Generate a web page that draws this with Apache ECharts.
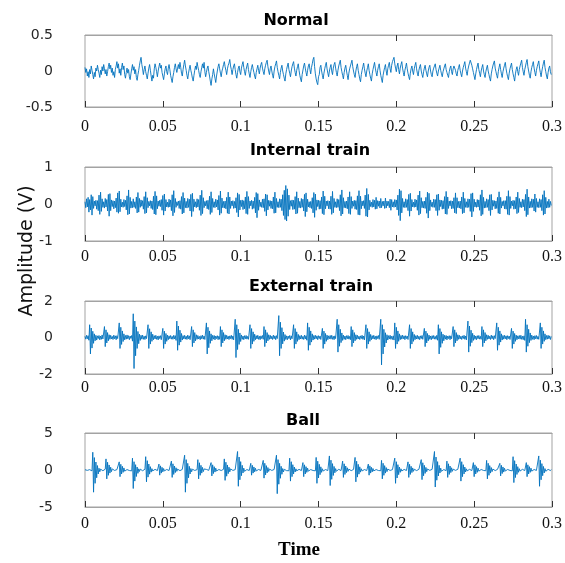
<!DOCTYPE html>
<html>
<head>
<meta charset="utf-8">
<script src="https://cdn.jsdelivr.net/npm/echarts@6/dist/echarts.min.js"></script>
<style>
  html, body { margin: 0; padding: 0; background: #fff; }
  #chart { width: 565px; height: 563px; }
</style>
</head>
<body>
<div id="chart"></div>
<script>
// sample spacing (s) of the vibration records, 0 .. 0.3 s
const DT = 0.0005

const titles = ['Normal', 'Internal train', 'External train', 'Ball']
const yLimits = [0.5, 1, 2, 5]
const xTicks = [0, 0.05, 0.1, 0.15, 0.2, 0.25, 0.3]
const topTicks = [0.2, 0.25]

const normal = [
  0.05,-0.02,0.03,-0.07,-0.01,-0.09,0.02,-0.04,0.07,0.01,-0.05,-0.11,-0.02,-0.08,0.04,0.00,0.08,0.02,-0.03,-0.09,0.01,-0.05,0.06,0.00,0.09,0.03,-0.04,0.02,-0.07,-0.01,0.06,0.11,0.03,0.08,-0.02,0.04,-0.06,-0.01,-0.09,0.02,
  0.07,0.13,0.04,0.10,-0.03,0.03,-0.06,0.05,0.11,0.02,0.07,-0.05,-0.10,-0.02,0.04,-0.03,0.02,-0.08,-0.12,-0.04,0.03,0.09,0.01,0.06,-0.04,0.02,-0.09,-0.13,-0.05,0.01,0.08,0.14,0.19,0.09,0.03,-0.05,0.02,0.07,-0.01,-0.06,
  -0.11,-0.03,0.04,0.09,0.01,-0.07,-0.14,-0.06,-0.10,0.03,0.10,0.05,-0.01,-0.08,0.00,0.06,0.11,0.04,0.08,-0.02,-0.07,-0.12,-0.04,0.03,0.07,-0.01,-0.05,0.04,0.09,0.02,-0.06,-0.11,-0.16,-0.08,-0.02,0.05,0.10,0.03,-0.02,0.04,
  0.09,0.03,0.12,0.05,-0.03,-0.07,0.02,0.09,0.15,0.07,0.01,-0.06,-0.11,-0.03,0.03,0.08,0.01,-0.04,-0.10,-0.14,-0.06,0.01,0.07,0.02,0.12,0.06,0.01,-0.05,-0.09,-0.01,0.05,0.10,0.04,0.12,-0.01,-0.08,-0.02,0.04,0.07,-0.01,
  -0.07,-0.14,-0.20,-0.11,-0.05,0.03,-0.04,-0.10,-0.16,-0.07,0.00,0.06,0.10,0.03,-0.03,-0.08,0.00,0.04,0.09,0.13,0.06,0.01,-0.05,0.03,0.08,0.11,0.16,0.07,0.02,-0.05,0.02,0.07,0.10,0.02,-0.05,-0.10,-0.02,0.04,0.07,-0.01,
  -0.05,0.04,0.09,0.13,0.05,-0.01,-0.06,0.02,0.07,0.11,0.02,-0.04,-0.09,-0.01,0.05,0.09,0.03,-0.02,-0.07,-0.11,-0.02,0.03,0.08,0.01,-0.04,0.04,0.09,0.12,0.04,-0.01,-0.05,0.03,0.08,0.12,0.15,0.06,0.00,-0.05,0.03,0.07,
  0.00,-0.06,-0.10,0.00,0.06,0.10,0.14,0.05,-0.01,-0.06,-0.11,-0.02,0.04,0.08,0.00,-0.05,-0.10,-0.14,-0.04,0.02,0.07,0.11,0.02,-0.03,-0.08,0.00,0.06,0.10,0.13,0.04,-0.02,-0.07,0.01,0.06,0.10,0.01,-0.06,-0.11,-0.15,-0.05,
  -0.03,0.07,0.11,0.04,-0.02,-0.07,0.01,0.07,0.10,0.02,-0.04,0.05,0.10,0.16,0.19,0.06,-0.04,-0.11,-0.16,-0.19,-0.08,-0.05,0.05,0.08,0.00,-0.06,-0.11,-0.03,0.03,0.08,0.12,0.03,-0.03,-0.08,0.00,0.05,0.09,0.00,-0.05,0.04,
  0.09,0.12,0.04,-0.02,-0.07,0.01,0.07,0.11,0.15,0.05,-0.01,-0.06,-0.11,-0.02,0.04,0.08,0.00,-0.06,-0.12,-0.03,0.03,0.07,0.11,0.15,0.06,0.00,-0.05,-0.09,0.00,0.06,0.10,0.01,-0.05,-0.11,-0.15,-0.05,0.01,0.06,0.11,0.03,
  -0.03,-0.08,0.00,0.05,0.10,0.01,-0.05,-0.10,-0.14,-0.04,0.02,0.07,0.12,0.04,-0.02,-0.07,0.01,0.06,0.10,0.01,-0.06,-0.11,-0.16,-0.06,0.00,0.05,0.09,0.00,-0.06,0.03,0.08,0.12,0.03,-0.02,0.08,0.13,0.16,0.19,0.10,0.04,
  -0.01,0.07,0.11,0.02,-0.04,0.04,0.09,0.13,0.04,-0.02,-0.07,0.01,0.06,0.11,0.03,-0.03,-0.08,-0.12,-0.03,0.03,0.07,0.00,-0.05,0.03,0.08,0.12,0.03,-0.03,-0.07,0.01,0.06,0.09,0.00,-0.05,-0.09,-0.01,0.04,0.08,0.01,-0.04,
  -0.08,0.00,0.05,0.08,0.00,-0.05,-0.08,0.00,0.04,0.07,0.10,0.02,-0.03,-0.07,0.00,0.04,0.08,0.01,-0.04,-0.08,-0.01,0.03,0.07,0.10,0.02,-0.02,-0.06,-0.09,-0.01,0.04,0.07,-0.01,-0.05,0.03,0.07,0.09,0.01,-0.04,-0.07,0.01,
  0.05,0.09,0.01,-0.04,-0.08,0.00,0.05,0.09,0.13,0.04,-0.01,-0.06,0.02,0.07,0.11,0.15,0.17,0.08,0.03,-0.02,-0.07,-0.12,-0.04,0.02,0.07,0.11,0.02,-0.03,-0.08,0.00,0.05,0.09,0.00,-0.05,-0.09,-0.01,0.04,0.08,0.00,-0.05,
  -0.10,-0.14,-0.04,0.02,0.07,0.11,0.14,0.04,-0.01,-0.06,-0.10,-0.01,0.05,0.10,0.02,-0.04,-0.09,-0.01,0.04,0.08,0.12,0.03,-0.03,-0.08,-0.12,-0.03,0.03,0.07,0.11,0.02,-0.04,-0.09,-0.14,-0.04,0.02,0.06,-0.01,-0.06,0.02,0.07,
  0.11,0.15,0.05,-0.01,-0.06,0.02,0.07,0.12,0.16,0.06,0.00,-0.06,-0.10,-0.01,0.05,0.09,0.13,0.04,-0.02,-0.07,0.01,0.06,0.10,0.14,0.04,-0.02,-0.08,0.00,0.06,0.11,0.15,0.05,-0.01,-0.07,-0.11,-0.02,0.04,0.07,-0.01,-0.05
]

const internalTrain = [
  0.06,-0.10,0.14,-0.08,0.18,-0.22,0.12,-0.16,0.25,-0.30,0.20,-0.12,0.08,-0.05,0.10,-0.14,0.09,-0.18,0.24,-0.28,0.32,-0.20,0.14,-0.09,0.06,-0.11,0.15,-0.08,0.12,-0.19,0.26,-0.33,0.28,-0.18,0.11,-0.07,0.09,-0.13,0.08,-0.10,
  0.16,-0.22,0.30,-0.25,0.35,-0.21,0.13,-0.08,0.05,-0.09,0.12,-0.07,0.10,-0.16,0.22,-0.29,0.38,-0.27,0.18,-0.11,0.07,-0.10,0.14,-0.09,0.06,-0.12,0.19,-0.24,0.31,-0.22,0.15,-0.09,0.11,-0.06,0.09,-0.14,0.20,-0.26,0.33,-0.24,
  0.17,-0.10,0.07,-0.05,0.09,-0.12,0.08,-0.15,0.21,-0.27,0.34,-0.29,0.22,-0.13,0.08,-0.06,0.10,-0.07,0.12,-0.17,0.23,-0.30,0.27,-0.19,0.12,-0.08,0.05,-0.09,0.13,-0.08,0.11,-0.18,0.25,-0.32,0.36,-0.23,0.15,-0.09,0.06,-0.04,
  0.08,-0.12,0.09,-0.14,0.20,-0.27,0.31,-0.24,0.16,-0.10,0.07,-0.11,0.15,-0.09,0.13,-0.19,0.26,-0.34,0.29,-0.20,0.13,-0.08,0.06,-0.10,0.14,-0.08,0.12,-0.17,0.24,-0.31,0.37,-0.26,0.17,-0.10,0.07,-0.05,0.09,-0.13,0.10,-0.15,
  0.21,-0.28,0.33,-0.23,0.15,-0.09,0.06,-0.10,0.13,-0.08,0.11,-0.16,0.23,-0.30,0.35,-0.25,0.16,-0.10,0.07,-0.11,0.08,-0.13,0.18,-0.25,0.32,-0.27,0.19,-0.12,0.08,-0.05,0.09,-0.12,0.07,-0.11,0.17,-0.23,0.30,-0.35,0.26,-0.16,
  0.10,-0.07,0.11,-0.15,0.09,-0.13,0.19,-0.26,0.34,-0.28,0.20,-0.12,0.08,-0.05,0.10,-0.14,0.08,-0.12,0.18,-0.24,0.31,-0.37,0.28,-0.17,0.11,-0.07,0.05,-0.09,0.13,-0.10,0.14,-0.20,0.27,-0.32,0.25,-0.16,0.10,-0.06,0.09,-0.12,
  0.08,-0.13,0.19,-0.25,0.32,-0.24,0.15,-0.09,0.06,-0.10,0.14,-0.09,0.13,-0.18,0.25,-0.31,0.37,-0.42,0.50,-0.46,0.41,-0.33,0.24,-0.15,0.09,-0.06,0.11,-0.15,0.10,-0.14,0.20,-0.27,0.33,-0.25,0.16,-0.10,0.07,-0.11,0.15,-0.09,
  0.13,-0.19,0.26,-0.34,0.30,-0.21,0.13,-0.08,0.06,-0.10,0.07,-0.12,0.17,-0.24,0.31,-0.36,0.27,-0.17,0.11,-0.07,0.10,-0.14,0.09,-0.13,0.19,-0.26,0.35,-0.29,0.21,-0.13,0.08,-0.05,0.09,-0.13,0.08,-0.14,0.21,-0.28,0.34,-0.24,
  0.15,-0.09,0.06,-0.10,0.14,-0.09,0.12,-0.18,0.25,-0.32,0.38,-0.27,0.17,-0.10,0.07,-0.11,0.08,-0.13,0.19,-0.26,0.33,-0.28,0.20,-0.12,0.08,-0.06,0.10,-0.14,0.09,-0.15,0.22,-0.29,0.36,-0.30,0.21,-0.13,0.08,-0.05,0.09,-0.12,
  0.24,-0.33,0.42,-0.35,0.26,-0.16,0.10,-0.07,0.05,-0.09,0.12,-0.08,0.10,-0.14,0.18,-0.13,0.09,-0.06,0.08,-0.11,0.15,-0.10,0.07,-0.05,0.08,-0.12,0.16,-0.11,0.08,-0.05,0.07,-0.10,0.13,-0.17,0.12,-0.08,0.06,-0.09,0.12,-0.08,
  0.11,-0.16,0.24,-0.31,0.40,-0.45,0.36,-0.24,0.15,-0.09,0.06,-0.10,0.14,-0.09,0.12,-0.18,0.26,-0.33,0.29,-0.19,0.12,-0.08,0.05,-0.09,0.13,-0.08,0.11,-0.17,0.24,-0.30,0.35,-0.26,0.17,-0.10,0.07,-0.11,0.08,-0.12,0.18,-0.25,
  0.32,-0.38,0.29,-0.18,0.11,-0.07,0.05,-0.09,0.13,-0.09,0.12,-0.18,0.25,-0.31,0.27,-0.17,0.11,-0.07,0.10,-0.14,0.09,-0.13,0.20,-0.27,0.34,-0.28,0.19,-0.12,0.08,-0.05,0.09,-0.13,0.08,-0.12,0.17,-0.24,0.30,-0.26,0.17,-0.10,
  0.07,-0.11,0.08,-0.13,0.19,-0.26,0.32,-0.24,0.15,-0.09,0.06,-0.10,0.14,-0.09,0.13,-0.20,0.28,-0.35,0.30,-0.20,0.13,-0.08,0.05,-0.09,0.12,-0.08,0.11,-0.17,0.25,-0.32,0.38,-0.28,0.18,-0.11,0.07,-0.10,0.14,-0.09,0.12,-0.18,
  0.25,-0.31,0.26,-0.16,0.10,-0.06,0.09,-0.13,0.08,-0.12,0.18,-0.25,0.33,-0.27,0.18,-0.11,0.07,-0.05,0.09,-0.13,0.09,-0.14,0.21,-0.28,0.36,-0.30,0.20,-0.12,0.08,-0.05,0.10,-0.14,0.09,-0.13,0.19,-0.26,0.32,-0.23,0.15,-0.09,
  0.06,-0.10,0.13,-0.08,0.12,-0.18,0.26,-0.34,0.40,-0.29,0.19,-0.11,0.07,-0.10,0.14,-0.09,0.13,-0.19,0.27,-0.22,0.15,-0.09,0.06,-0.10,0.14,-0.09,0.12,-0.18,0.25,-0.30,0.36,-0.27,0.18,-0.11,0.07,-0.10,0.13,-0.09,0.07,-0.04
]

const externalTrain = [
  0.06,-0.09,0.12,-0.07,0.10,-0.15,0.70,-0.90,0.52,-0.58,0.34,-0.32,0.20,-0.18,0.12,-0.14,0.09,-0.06,0.11,-0.13,0.08,-0.10,0.14,-0.08,-0.12,0.60,-0.50,0.42,-0.30,0.27,-0.18,0.15,-0.10,0.12,-0.08,0.06,-0.11,0.13,-0.07,0.09,
  -0.12,0.10,-0.06,-0.15,0.80,-0.60,0.56,-0.38,0.36,-0.22,0.20,-0.13,0.11,-0.09,0.14,-0.07,0.10,-0.12,0.08,-0.05,0.11,-0.20,1.30,-1.70,0.90,-1.00,0.58,-0.60,0.33,-0.34,0.18,-0.16,0.12,-0.09,0.13,-0.10,0.07,-0.11,0.09,-0.06,
  -0.14,0.70,-0.60,0.48,-0.36,0.31,-0.21,0.18,-0.12,0.10,-0.08,0.12,-0.10,0.07,-0.13,0.09,-0.06,0.10,-0.12,-0.10,0.50,-0.60,0.35,-0.36,0.22,-0.21,0.13,-0.12,0.09,-0.07,0.11,-0.09,0.06,-0.10,0.12,-0.08,0.10,-0.16,0.90,-0.70,
  0.63,-0.42,0.40,-0.25,0.22,-0.14,0.10,-0.08,0.12,-0.09,0.07,-0.11,0.13,-0.07,0.09,-0.12,-0.10,0.60,-0.50,0.42,-0.30,0.27,-0.18,0.15,-0.10,0.11,-0.08,0.06,-0.12,0.10,-0.07,0.13,-0.09,0.08,-0.11,-0.15,0.80,-0.90,0.56,-0.56,
  0.36,-0.32,0.20,-0.18,0.12,-0.09,0.11,-0.13,0.08,-0.06,0.10,-0.12,0.07,-0.10,0.60,-0.50,0.42,-0.30,0.27,-0.18,0.15,-0.10,0.12,-0.08,0.07,-0.11,0.09,-0.06,0.12,-0.10,0.08,-0.13,-0.18,1.00,-1.10,0.70,-0.66,0.45,-0.38,0.25,
  -0.22,0.14,-0.10,0.08,-0.12,0.10,-0.07,0.11,-0.09,0.06,-0.10,-0.12,0.70,-0.60,0.49,-0.36,0.31,-0.21,0.18,-0.12,0.10,-0.08,0.12,-0.10,0.07,-0.12,0.09,-0.06,0.11,-0.10,0.60,-0.50,0.42,-0.30,0.27,-0.18,0.15,-0.10,0.12,-0.08,
  0.07,-0.11,0.13,-0.07,0.09,-0.12,0.10,-0.06,-0.16,1.20,-1.00,0.84,-0.60,0.54,-0.35,0.30,-0.20,0.16,-0.11,0.09,-0.12,0.08,-0.06,0.11,-0.13,0.09,-0.07,-0.12,0.70,-0.60,0.49,-0.36,0.31,-0.21,0.17,-0.12,0.10,-0.08,0.12,-0.09,
  0.06,-0.11,0.13,-0.08,0.10,-0.15,0.80,-0.70,0.56,-0.42,0.36,-0.25,0.20,-0.14,0.11,-0.09,0.12,-0.07,0.09,-0.12,0.10,-0.06,0.08,-0.11,-0.10,0.50,-0.60,0.35,-0.36,0.22,-0.21,0.13,-0.12,0.09,-0.07,0.11,-0.09,0.12,-0.10,0.07,
  -0.12,0.09,-0.06,-0.14,1.00,-0.80,0.70,-0.48,0.45,-0.28,0.25,-0.16,0.13,-0.10,0.08,-0.12,0.10,-0.07,0.11,-0.09,0.06,-0.12,0.60,-0.50,0.42,-0.30,0.27,-0.18,0.15,-0.10,0.12,-0.08,0.07,-0.11,0.09,-0.06,0.12,-0.10,0.08,-0.13,
  -0.10,0.70,-0.60,0.49,-0.36,0.31,-0.21,0.17,-0.12,0.10,-0.08,0.12,-0.09,0.07,-0.12,0.09,-0.06,0.11,-0.10,-0.18,1.00,-1.50,0.70,-0.90,0.45,-0.52,0.26,-0.30,0.15,-0.14,0.10,-0.08,0.12,-0.10,0.07,-0.11,0.09,-0.14,0.80,-0.60,
  0.56,-0.36,0.36,-0.21,0.20,-0.12,0.11,-0.09,0.13,-0.07,0.09,-0.12,0.10,-0.06,0.08,-0.11,-0.12,0.70,-0.60,0.49,-0.36,0.31,-0.21,0.17,-0.12,0.10,-0.08,0.12,-0.09,0.07,-0.12,0.09,-0.06,0.11,-0.10,-0.08,0.50,-0.50,0.35,-0.30,
  0.22,-0.18,0.13,-0.10,0.08,-0.12,0.10,-0.07,0.11,-0.09,0.06,-0.10,0.12,-0.15,0.70,-0.90,0.49,-0.54,0.31,-0.32,0.18,-0.18,0.12,-0.09,0.11,-0.13,0.08,-0.06,0.10,-0.12,0.09,-0.07,-0.11,0.60,-0.50,0.42,-0.30,0.27,-0.18,0.15,
  -0.10,0.12,-0.08,0.07,-0.11,0.09,-0.06,0.12,-0.10,0.08,-0.13,-0.15,0.90,-0.80,0.63,-0.48,0.40,-0.28,0.23,-0.16,0.13,-0.10,0.08,-0.12,0.10,-0.07,0.11,-0.09,0.06,-0.10,0.60,-0.50,0.42,-0.30,0.27,-0.18,0.15,-0.10,0.12,-0.08,
  0.07,-0.11,0.13,-0.07,0.09,-0.12,0.10,-0.06,-0.14,0.80,-0.70,0.56,-0.42,0.36,-0.25,0.20,-0.14,0.11,-0.09,0.12,-0.07,0.09,-0.12,0.10,-0.06,0.08,-0.11,-0.10,0.50,-0.60,0.35,-0.36,0.22,-0.21,0.13,-0.12,0.09,-0.07,0.11,-0.09,
  0.12,-0.10,0.07,-0.12,0.09,-0.16,1.00,-0.80,0.70,-0.48,0.45,-0.28,0.25,-0.16,0.13,-0.10,0.08,-0.12,0.10,-0.07,0.11,-0.09,0.06,-0.10,-0.14,0.80,-0.60,0.56,-0.36,0.36,-0.21,0.20,-0.12,0.11,-0.09,0.12,-0.07,0.09,-0.11,0.06
]

const ball = [
  0.04,-0.06,0.08,-0.05,0.07,-0.09,0.05,-0.07,0.10,-0.12,2.40,-3.00,1.68,-1.80,1.08,-1.05,0.60,-0.54,0.24,-0.24,0.12,-0.09,0.07,-0.10,0.06,-0.08,0.11,1.50,-1.20,1.05,-0.72,0.68,-0.42,0.38,-0.22,0.15,-0.10,0.08,-0.06,0.09,
  -0.07,0.05,-0.09,0.12,1.10,-0.90,0.77,-0.54,0.50,-0.32,0.28,-0.16,0.11,-0.07,0.06,-0.08,0.05,-0.07,0.09,-0.06,-0.12,1.60,-2.50,1.12,-1.50,0.72,-0.88,0.40,-0.45,0.16,-0.20,0.12,-0.09,0.07,-0.10,0.06,-0.08,0.10,1.80,-1.60,
  1.26,-0.96,0.81,-0.56,0.45,-0.29,0.18,-0.13,0.08,-0.06,0.09,-0.05,0.07,-0.08,0.06,0.80,-0.70,0.56,-0.42,0.36,-0.25,0.20,-0.13,0.08,-0.06,0.07,-0.09,0.05,-0.07,0.08,-0.10,1.20,-1.00,0.84,-0.60,0.54,-0.35,0.30,-0.18,0.12,
  -0.08,0.06,-0.09,0.07,-0.05,0.08,-0.07,-0.14,2.00,-3.00,1.40,-1.80,0.90,-1.05,0.50,-0.54,0.20,-0.24,0.11,-0.09,0.07,-0.06,0.09,-0.07,0.05,1.40,-1.20,0.98,-0.72,0.63,-0.42,0.35,-0.22,0.14,-0.10,-0.07,0.08,-0.06,0.09,-0.05,
  0.07,-0.09,1.00,-0.80,0.70,-0.48,0.45,-0.28,0.25,-0.14,0.10,-0.06,0.07,-0.05,0.08,-0.07,0.06,-0.09,0.10,1.50,-1.40,1.05,-0.84,0.68,-0.49,0.38,-0.25,0.15,-0.11,0.08,-0.06,0.09,-0.07,0.05,-0.08,0.12,2.50,-2.20,1.75,-1.32,
  1.13,-0.77,0.63,-0.40,0.25,-0.18,0.09,-0.07,0.06,-0.08,0.05,-0.07,0.08,0.90,-0.70,0.63,-0.42,0.41,-0.25,0.23,-0.13,0.09,-0.06,0.07,-0.05,0.08,-0.06,0.09,-0.10,1.30,-1.10,0.91,-0.66,0.59,-0.39,0.33,-0.20,0.13,-0.09,0.07,
  -0.06,0.08,-0.05,0.07,-0.09,0.13,2.00,-3.20,1.40,-1.92,0.90,-1.12,0.50,-0.58,0.20,-0.26,0.10,-0.08,0.06,-0.09,0.07,-0.05,-0.10,1.60,-1.50,1.12,-0.90,0.72,-0.53,0.40,-0.27,0.16,-0.12,0.08,-0.06,0.09,-0.07,0.05,-0.08,0.06,
  1.00,-0.90,0.70,-0.54,0.45,-0.32,0.25,-0.16,0.10,-0.07,0.06,-0.08,0.05,-0.07,0.09,-0.06,-0.11,1.70,-1.80,1.19,-1.08,0.77,-0.63,0.43,-0.32,0.17,-0.14,0.09,-0.07,0.06,-0.09,0.05,-0.07,0.12,1.90,-2.10,1.33,-1.26,0.86,-0.74,
  0.48,-0.38,0.19,-0.17,0.08,-0.06,0.09,-0.05,0.07,-0.08,0.06,1.20,-1.00,0.84,-0.60,0.54,-0.35,0.30,-0.18,0.12,-0.08,0.07,-0.09,0.05,-0.07,0.08,-0.11,1.70,-1.60,1.19,-0.96,0.77,-0.56,0.43,-0.29,0.17,-0.13,0.09,-0.07,0.06,
  -0.08,0.05,-0.07,0.09,0.80,-0.70,0.56,-0.42,0.36,-0.25,0.20,-0.13,0.08,-0.06,0.06,-0.08,0.05,-0.07,0.09,-0.06,-0.10,1.30,-1.20,0.91,-0.72,0.59,-0.42,0.33,-0.22,0.13,-0.10,0.08,-0.06,0.09,-0.07,0.05,-0.08,0.11,1.60,-1.80,
  1.12,-1.08,0.72,-0.63,0.40,-0.32,0.16,-0.14,0.07,-0.05,0.08,-0.06,0.09,-0.07,0.05,1.10,-1.00,0.77,-0.60,0.50,-0.35,0.28,-0.18,0.11,-0.08,0.06,-0.08,0.05,-0.07,0.09,-0.06,-0.11,1.40,-1.30,0.98,-0.78,0.63,-0.46,0.35,-0.23,
  0.14,-0.10,0.07,-0.05,0.08,-0.06,0.09,-0.07,0.13,2.50,-2.30,1.75,-1.38,1.13,-0.81,0.63,-0.41,0.25,-0.18,0.09,-0.07,0.06,-0.08,0.05,-0.09,1.20,-1.00,0.84,-0.60,0.54,-0.35,0.30,-0.18,0.12,-0.08,0.07,-0.05,0.08,-0.06,0.09,
  -0.07,0.10,1.60,-1.50,1.12,-0.90,0.72,-0.53,0.40,-0.27,0.16,-0.12,0.08,-0.06,0.09,-0.07,0.05,-0.08,0.06,1.00,-0.90,0.70,-0.54,0.45,-0.32,0.25,-0.16,0.10,-0.07,0.07,-0.05,0.08,-0.06,0.09,-0.07,-0.10,1.30,-1.20,0.91,-0.72,
  0.59,-0.42,0.33,-0.22,0.13,-0.10,0.06,-0.08,0.05,-0.07,0.09,-0.06,0.08,0.90,-0.80,0.63,-0.48,0.41,-0.28,0.23,-0.14,0.09,-0.06,0.07,-0.05,0.08,-0.06,0.09,-0.07,-0.12,1.80,-1.70,1.26,-1.02,0.81,-0.60,0.45,-0.31,0.18,-0.14,
  0.08,-0.06,0.09,-0.07,0.05,-0.08,0.06,1.00,-0.90,0.70,-0.54,0.45,-0.32,0.25,-0.16,0.10,-0.07,0.07,-0.05,0.08,-0.06,0.09,-0.12,1.90,-2.20,1.33,-1.32,0.86,-0.77,0.48,-0.40,0.19,-0.18,0.08,-0.06,0.09,-0.07,0.05,-0.08,0.06
]

const signals = [normal, internalTrain, externalTrain, ball]

const tops = [35, 167, 301, 433]
const heights = [72, 74, 73, 74]
const labelMargins = [12, 8, 6, 9]
const titleX = [296, 310, 311, 303]
const titleY = [21, 151, 287, 421]

const chart = echarts.init(document.getElementById('chart'), null, { renderer: 'canvas' })

const grid = tops.map((top, i) => ({
  left: 85,
  right: 13,
  top,
  height: heights[i],
  show: true,
  borderColor: '#a3a3a3',
  borderWidth: 1,
  backgroundColor: 'transparent',
}))

const boxLine = { show: true, onZero: false, lineStyle: { color: '#a3a3a3', width: 1 } }
const tickStyle = { show: true, inside: true, length: 6, lineStyle: { color: '#333', width: 1 } }

const xAxis = []
signals.forEach((_, i) => {
  xAxis.push({
    type: 'value',
    gridIndex: i,
    position: 'bottom',
    min: xTicks[0],
    max: xTicks[xTicks.length - 1],
    interval: 0.05,
    axisLine: boxLine,
    axisTick: tickStyle,
    splitLine: { show: false },
    axisLabel: {
      margin: labelMargins[i],
      fontFamily: 'Liberation Serif',
      fontSize: 16,
      color: '#111',
    },
  })
})
// matlab-style inner ticks that survive on the top edge
signals.forEach((_, i) => {
  xAxis.push({
    type: 'value',
    gridIndex: i,
    position: 'top',
    min: xTicks[0],
    max: xTicks[xTicks.length - 1],
    interval: 0.05,
    axisLine: boxLine,
    axisTick: Object.assign({}, tickStyle, { customValues: topTicks }),
    axisLabel: { show: false },
    splitLine: { show: false },
  })
})

const yAxis = yLimits.map((lim, i) => ({
  type: 'value',
  gridIndex: i,
  min: -lim,
  max: lim,
  interval: lim,
  axisLine: { show: false, onZero: false },
  axisTick: { show: false },
  splitLine: { show: false },
  axisLabel: {
    margin: 32,
    fontFamily: 'DejaVu Sans',
    fontSize: 14,
    color: '#262626',
  },
}))

const series = signals.map((values, i) => ({
  type: 'line',
  xAxisIndex: i,
  yAxisIndex: i,
  data: values.map((v, k) => [k * DT, v]),
  showSymbol: false,
  symbol: 'none',
  sampling: 'none',
  lineStyle: { color: '#0072BD', width: 0.9 },
  clip: true,
  animation: false,
}))

const graphic = titles.map((t, i) => ({
  type: 'text',
  x: titleX[i],
  y: titleY[i],
  style: {
    text: t,
    fontFamily: 'DejaVu Sans',
    fontWeight: 'bold',
    fontSize: 16,
    fill: '#000',
    textAlign: 'center',
    textVerticalAlign: 'middle',
  },
}))

graphic.push({
  type: 'text',
  x: 299,
  y: 550,
  style: {
    text: 'Time',
    fontFamily: 'Liberation Serif',
    fontWeight: 'bold',
    fontSize: 19,
    fill: '#000',
    textAlign: 'center',
    textVerticalAlign: 'middle',
  },
})

graphic.push({
  type: 'text',
  x: 27,
  y: 251,
  rotation: Math.PI / 2,
  style: {
    text: 'Amplitude (V)',
    fontFamily: 'DejaVu Sans',
    fontSize: 19,
    fill: '#111',
    textAlign: 'center',
    textVerticalAlign: 'middle',
  },
})

chart.setOption({
  animation: false,
  grid,
  xAxis,
  yAxis,
  series,
  graphic,
})
</script>
</body>
</html>
